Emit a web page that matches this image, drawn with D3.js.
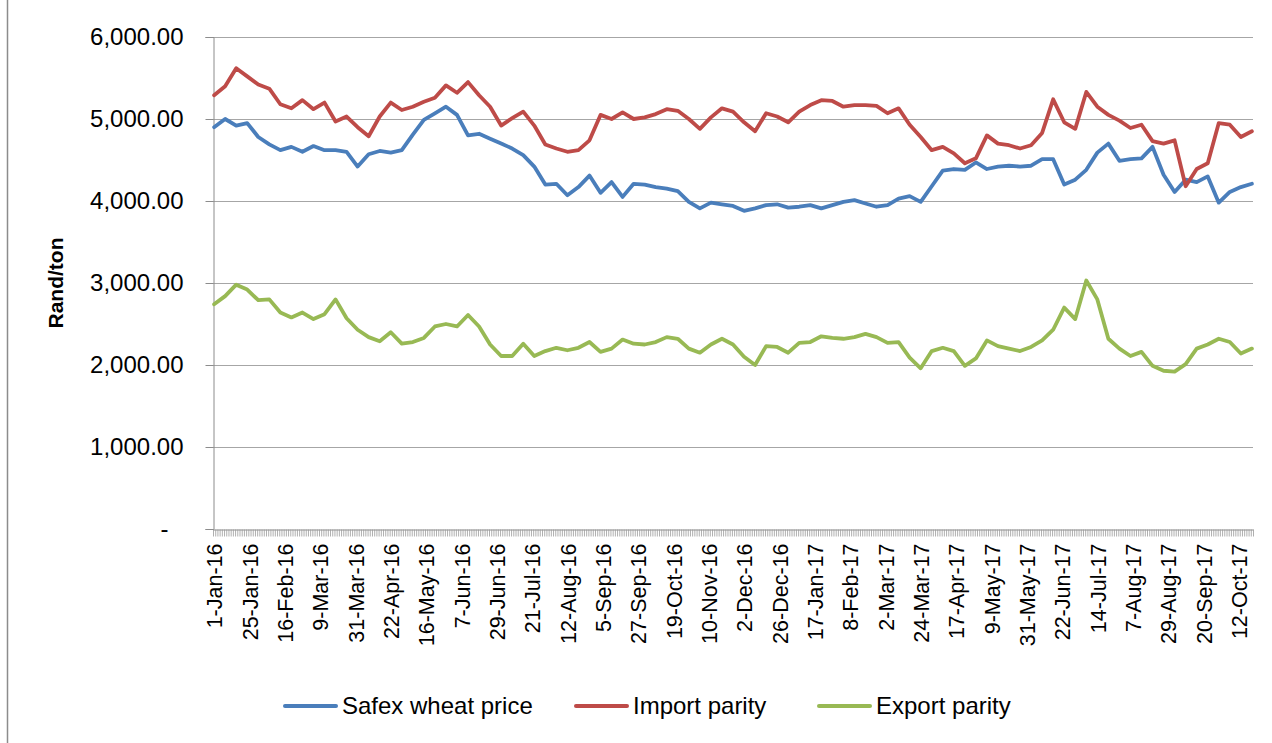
<!DOCTYPE html>
<html>
<head>
<meta charset="utf-8">
<script src="https://d3js.org/d3.v7.min.js"></script>
<style>
    body { margin: 0; background: #fff; }
    svg { font-family: "Liberation Sans", Arial, sans-serif; }
    .ylab text { font-size: 24px; fill: #000; }
    .xlab text { font-size: 21.5px; fill: #000; }
    .legend text { font-size: 24px; fill: #000; }
</style>
</head>
<body>
<div id="chart"></div>
<script>
// weekday categories, 1-Jan-16 .. 20-Oct-17; a label every 16th category
var nCategories = 471;
var labelEvery = 16;
var tickLabels = ["1-Jan-16", "25-Jan-16", "16-Feb-16", "9-Mar-16", "31-Mar-16", "22-Apr-16",
    "16-May-16", "7-Jun-16", "29-Jun-16", "21-Jul-16", "12-Aug-16", "5-Sep-16", "27-Sep-16",
    "19-Oct-16", "10-Nov-16", "2-Dec-16", "26-Dec-16", "17-Jan-17", "8-Feb-17", "2-Mar-17",
    "24-Mar-17", "17-Apr-17", "9-May-17", "31-May-17", "22-Jun-17", "14-Jul-17", "7-Aug-17",
    "29-Aug-17", "20-Sep-17", "12-Oct-17"];

// values every 5th category (Rand/ton)
var sampleStep = 5;
var safex = [4900, 5000, 4920, 4950, 4780, 4690, 4620, 4660, 4600, 4670,
    4620, 4620, 4600, 4420, 4570, 4610, 4590, 4620, 4810, 4990,
    5070, 5150, 5050, 4800, 4820, 4760, 4700, 4640, 4560, 4420,
    4200, 4210, 4070, 4170, 4310, 4100, 4230, 4050, 4210, 4200,
    4170, 4150, 4120, 3990, 3910, 3980, 3960, 3940, 3880, 3910,
    3950, 3960, 3920, 3930, 3950, 3910, 3950, 3990, 4010, 3970,
    3930, 3950, 4030, 4060, 3990, 4180, 4370, 4390, 4380, 4470,
    4390, 4420, 4430, 4420, 4430, 4510, 4510, 4200, 4260, 4380,
    4590, 4700, 4490, 4510, 4520, 4660, 4320, 4110, 4260, 4230,
    4300, 3980, 4110, 4170, 4210];
var importParity = [5290, 5400, 5620, 5520, 5420, 5370, 5180, 5130, 5230, 5120,
    5200, 4970, 5030, 4900, 4790, 5030, 5200, 5110, 5150, 5210,
    5260, 5410, 5320, 5450, 5290, 5150, 4920, 5010, 5090, 4920,
    4690, 4640, 4600, 4620, 4740, 5050, 5000, 5080, 5000, 5020,
    5060, 5120, 5100, 5000, 4880, 5020, 5130, 5090, 4960, 4850,
    5070, 5030, 4960, 5090, 5170, 5230, 5220, 5150, 5170, 5170,
    5160, 5070, 5130, 4930, 4780, 4620, 4660, 4580, 4460, 4520,
    4800, 4700, 4680, 4640, 4680, 4830, 5240, 4960, 4880, 5330,
    5150, 5050, 4980, 4890, 4930, 4730, 4700, 4740, 4180, 4390,
    4460, 4950, 4930, 4780, 4850];
var exportParity = [2740, 2840, 2980, 2920, 2790, 2800, 2640, 2580, 2640, 2560,
    2620, 2800, 2570, 2430, 2340, 2290, 2400, 2260, 2280, 2330,
    2470, 2500, 2470, 2610, 2470, 2250, 2110, 2110, 2260, 2110,
    2170, 2210, 2180, 2210, 2280, 2160, 2200, 2310, 2260, 2250,
    2280, 2340, 2320, 2200, 2150, 2250, 2320, 2250, 2100, 2000,
    2230, 2220, 2150, 2270, 2280, 2350, 2330, 2320, 2340, 2380,
    2340, 2270, 2280, 2090, 1960, 2170, 2210, 2170, 1990, 2080,
    2300, 2230, 2200, 2170, 2220, 2300, 2430, 2700, 2560, 3030,
    2800, 2320, 2200, 2110, 2160, 1990, 1930, 1920, 2010, 2200,
    2250, 2320, 2280, 2140, 2200];

var seriesNames = ["Safex wheat price", "Import parity", "Export parity"];
var seriesColors = ["#4a7ebb", "#be4b48", "#98b954"];
var seriesData = [safex, importParity, exportParity];
var yTicks = [0, 1000, 2000, 3000, 4000, 5000, 6000];

var W = 1272, H = 743;
var plot = {left: 213, right: 1253, top: 37, bottom: 529};

var svg = d3.select("#chart").append("svg")
    .attr("width", W)
    .attr("height", H);

svg.append("rect").attr("width", W).attr("height", H).attr("fill", "#fff");

// chart frame (only the left edge is inside the picture)
svg.append("line")
    .attr("x1", 7.5).attr("x2", 7.5)
    .attr("y1", 0).attr("y2", H)
    .attr("stroke", "#8c8c8c").attr("stroke-width", 1.5);

var x = d3.scaleLinear()
    .domain([-0.5, nCategories - 0.5])
    .range([plot.left, plot.right]);

var y = d3.scaleLinear()
    .domain([0, 6000])
    .range([plot.bottom, plot.top]);

// gridlines
svg.append("g")
    .selectAll("line")
    .data(yTicks.slice(1))
    .enter().append("line")
    .attr("x1", plot.left).attr("x2", plot.right)
    .attr("y1", function(d) { return Math.round(y(d)) + 0.5; })
    .attr("y2", function(d) { return Math.round(y(d)) + 0.5; })
    .attr("stroke", "#a6a6a6")
    .attr("stroke-width", 1.2);

// y axis
var yAxis = svg.append("g")
    .attr("class", "ylab")
    .attr("transform", "translate(" + (plot.left + 0.5) + ",0)")
    .call(d3.axisLeft(y)
        .tickValues(yTicks)
        .tickSize(8)
        .tickPadding(22)
        .tickFormat(function(d) { return d === 0 ? "-" : d3.format(",.2f")(d); }));
yAxis.select(".domain").attr("stroke", "#8c8c8c");
yAxis.selectAll(".tick line").attr("stroke", "#8c8c8c");
yAxis.selectAll(".tick text")
    .attr("dx", function(d) { return d === 0 ? -15 : 0; });
yAxis.attr("font-family", null).attr("font-size", null);

// x axis: a small tick between every category
var catTicks = d3.range(nCategories + 1).map(function(i) { return i - 0.5; });
var xAxis = svg.append("g")
    .attr("transform", "translate(0," + (plot.bottom + 0.5) + ")")
    .call(d3.axisBottom(x)
        .tickValues(catTicks)
        .tickSize(7)
        .tickSizeOuter(0)
        .tickFormat(""));
xAxis.select(".domain").attr("stroke", "#8c8c8c").attr("stroke-width", 1.2);
xAxis.selectAll(".tick line").attr("stroke", "#9a9a9a").attr("stroke-width", 0.8);

// x labels, rotated
var labelIdx = tickLabels.map(function(d, k) { return k * labelEvery; });
var xLab = svg.append("g")
    .attr("class", "xlab")
    .attr("transform", "translate(0," + (plot.bottom + 0.5) + ")")
    .call(d3.axisBottom(x)
        .tickValues(labelIdx)
        .tickSize(0)
        .tickFormat(function(d, k) { return tickLabels[k]; }));
xLab.select(".domain").remove();
xLab.attr("font-family", null).attr("font-size", null);
xLab.selectAll(".tick text")
    .attr("transform", "rotate(-90)")
    .attr("text-anchor", "end")
    .attr("x", -14)
    .attr("y", 0)
    .attr("dy", "0.36em");

// y axis title
svg.append("text")
    .attr("transform", "translate(63," + ((plot.top + plot.bottom) / 2) + ") rotate(-90)")
    .attr("text-anchor", "middle")
    .style("font-size", "21px")
    .style("font-weight", "bold")
    .text("Rand/ton");

// series lines
var line = d3.line()
    .x(function(d, i) { return x(i * sampleStep); })
    .y(function(d) { return y(d); });

seriesData.forEach(function(vals, k) {
    svg.append("path")
        .datum(vals)
        .attr("fill", "none")
        .attr("stroke", seriesColors[k])
        .attr("stroke-width", 3.8)
        .attr("stroke-linejoin", "round")
        .attr("stroke-linecap", "round")
        .attr("d", line);
});

// legend
var legendX = [285, 576, 819];
var legend = svg.append("g").attr("class", "legend");
seriesNames.forEach(function(name, k) {
    legend.append("line")
        .attr("x1", legendX[k]).attr("x2", legendX[k] + 51)
        .attr("y1", 706).attr("y2", 706)
        .attr("stroke", seriesColors[k])
        .attr("stroke-width", 4)
        .attr("stroke-linecap", "round");
    legend.append("text")
        .attr("x", legendX[k] + 57)
        .attr("y", 714)
        .text(name);
});
</script>
</body>
</html>
